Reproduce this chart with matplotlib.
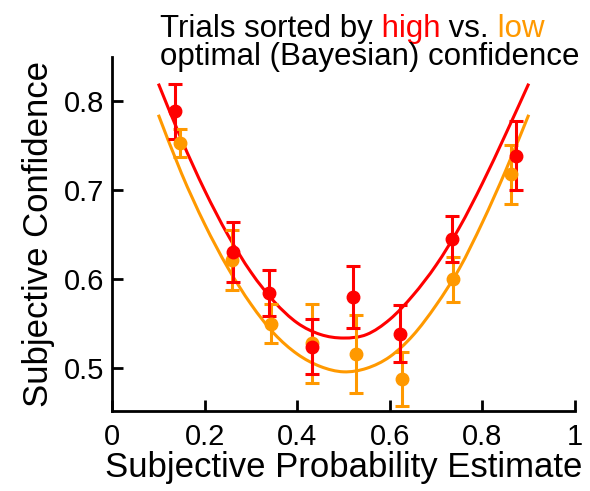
import matplotlib
matplotlib.use("Agg")
import numpy as np
import matplotlib.pyplot as plt
from matplotlib.path import Path
from matplotlib.patches import PathPatch

plt.rcParams['font.family'] = ['Liberation Sans', 'DejaVu Sans']

RED = '#ff0000'
ORANGE = '#ff9900'

# binned data: mean subjective confidence with s.e.m.
high_x = [0.136, 0.261, 0.339, 0.431, 0.521, 0.622, 0.734, 0.873]
high_y = [0.789, 0.631, 0.585, 0.524, 0.580, 0.539, 0.645, 0.739]
high_err = [0.031, 0.034, 0.026, 0.031, 0.035, 0.032, 0.026, 0.039]

low_x = [0.147, 0.259, 0.343, 0.431, 0.527, 0.626, 0.736, 0.862]
low_y = [0.753, 0.622, 0.550, 0.528, 0.516, 0.488, 0.600, 0.718]
low_err = [0.016, 0.034, 0.022, 0.044, 0.044, 0.030, 0.025, 0.033]

# model fits
fit_x = [0.10, 0.15, 0.20, 0.25, 0.30, 0.35, 0.40, 0.45, 0.50,
         0.55, 0.60, 0.65, 0.70, 0.75, 0.80, 0.85, 0.90]
high_fit = [0.820, 0.757, 0.700, 0.650, 0.608, 0.575, 0.551, 0.538, 0.534,
            0.538, 0.555, 0.582, 0.616, 0.658, 0.708, 0.763, 0.820]
low_fit = [0.785, 0.719, 0.662, 0.613, 0.572, 0.539, 0.516, 0.502, 0.496,
           0.500, 0.513, 0.537, 0.571, 0.612, 0.664, 0.722, 0.785]


def smooth_line(ax, xs, ys, color):
    # Catmull-Rom through the fit values, drawn as cubic Bezier segments
    pts = np.column_stack([xs, ys])
    n = len(pts)
    verts = [pts[0]]
    codes = [Path.MOVETO]
    for i in range(n - 1):
        p0 = pts[max(i - 1, 0)]
        p1 = pts[i]
        p2 = pts[i + 1]
        p3 = pts[min(i + 2, n - 1)]
        verts += [p1 + (p2 - p0) / 6, p2 - (p3 - p1) / 6, p2]
        codes += [Path.CURVE4] * 3
    ax.add_patch(PathPatch(Path(verts, codes), facecolor='none',
                           edgecolor=color, lw=2.2, transform=ax.transData))


fig = plt.figure(figsize=(5.9, 4.91), dpi=100)
ax = fig.add_axes([0.19, 0.163, 0.7846, 0.721])

smooth_line(ax, fit_x, low_fit, ORANGE)
ax.errorbar(low_x, low_y, yerr=low_err, fmt='o', color=ORANGE, ms=9,
            elinewidth=2.2, capsize=4.7, capthick=2.2)
smooth_line(ax, fit_x, high_fit, RED)
ax.errorbar(high_x, high_y, yerr=high_err, fmt='o', color=RED, ms=9,
            elinewidth=2.2, capsize=4.7, capthick=2.2)

ax.set_xlim(0, 1)
ax.set_ylim(0.452, 0.850)
ax.set_xticks([0, 0.2, 0.4, 0.6, 0.8, 1])
ax.set_xticklabels(['0', '0.2', '0.4', '0.6', '0.8', '1'])
ax.set_yticks([0.5, 0.6, 0.7, 0.8])
ax.set_yticklabels(['0.5', '0.6', '0.7', '0.8'])

for side in ['top', 'right']:
    ax.spines[side].set_visible(False)
for side in ['left', 'bottom']:
    ax.spines[side].set_linewidth(2)
ax.tick_params(direction='in', length=8, width=2, labelsize=21, pad=6)
ax.tick_params(axis='x', pad=9)

ax.set_xlabel('Subjective Probability Estimate', fontsize=25, labelpad=0)
ax.set_ylabel('Subjective Confidence', fontsize=25, labelpad=6)

# two-line heading with coloured keywords
t1 = fig.text(0.271, 0.925, 'Trials sorted by', fontsize=22.5, va='baseline')
t2 = ax.annotate(' high', xycoords=t1, xy=(1, 0), va='bottom',
                 fontsize=22.5, color=RED)
t3 = ax.annotate(' vs.', xycoords=t2, xy=(1, 0), va='bottom', fontsize=22.5)
ax.annotate(' low', xycoords=t3, xy=(1, 0), va='bottom',
            fontsize=22.5, color=ORANGE)
fig.text(0.271, 0.868, 'optimal (Bayesian) confidence', fontsize=22.5,
         va='baseline')

fig.savefig('out.png', dpi=100)
